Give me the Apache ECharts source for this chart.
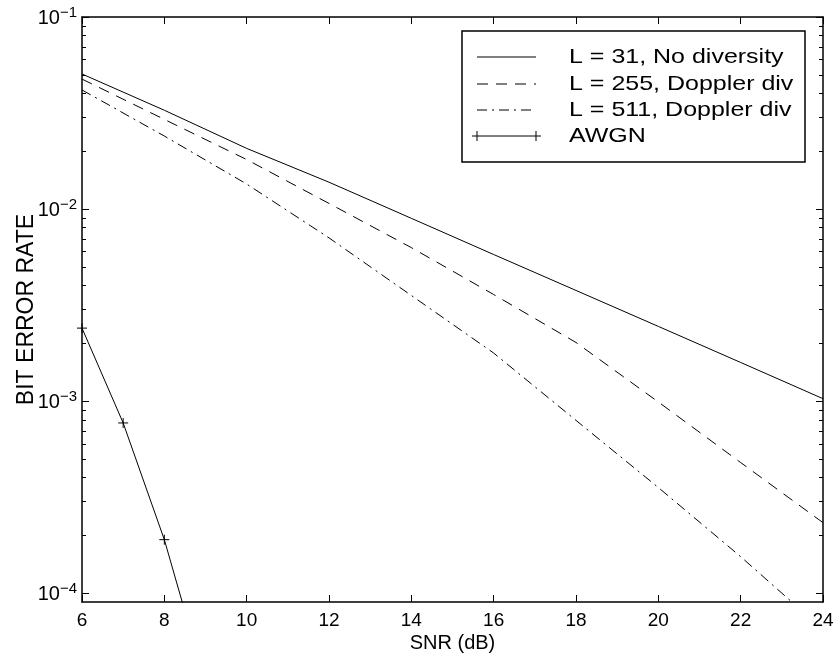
<!DOCTYPE html>
<html>
<head>
<meta charset="utf-8">
<script src="https://cdn.jsdelivr.net/npm/echarts@6/dist/echarts.min.js"></script>
<style>
  html, body { margin: 0; padding: 0; background: #fff; }
  #chart { width: 836px; height: 657px; }
</style>
</head>
<body>
<div id="chart"></div>
<script>
// SNR grid (dB) and bit error rates for each receiver configuration
const snr = [6, 8, 10, 12, 14, 16, 18, 20, 22, 24];
const berL31 = [0.0505, 0.0327, 0.0207, 0.0138, 0.00895, 0.0058, 0.00377, 0.00245, 0.00159, 0.00103];
const berL255 = [0.0475, 0.0293, 0.0181, 0.0107, 0.0063, 0.00359, 0.00202, 0.00099, 0.000479, 0.000233];
const berL511 = [0.0417, 0.024, 0.0135, 0.00708, 0.00355, 0.00178, 0.000794, 0.000355, 0.000155, 0.0000646];
const snrAwgn = [6, 7, 8, 9];
const berAwgn = [0.0024, 0.00077, 0.00019, 0.000034];

const seriesNames = ['L = 31, No diversity', 'L = 255, Doppler div', 'L = 511, Doppler div', 'AWGN'];

// Axis ticks
const xTicks = [6, 8, 10, 12, 14, 16, 18, 20, 22, 24];
const yMajor = [1e-4, 1e-3, 1e-2, 1e-1];
const yMin = 9e-5, yMax = 0.1;
const yMinor = [];
[-4, -3, -2].forEach(function (e) {
  for (let k = 2; k <= 9; k++) yMinor.push(+(k * Math.pow(10, e)).toPrecision(3));
});

const FONT = '"Liberation Sans", Arial, Helvetica, sans-serif';

function pairs(xs, ys) { return xs.map(function (x, i) { return [x, ys[i]]; }); }

function yLabel(v) {
  const e = Math.round(Math.log10(v));
  return '{a|10}{b|\u2212' + Math.abs(e) + '}';
}

const frame = { show: true, lineStyle: { color: '#000', width: 1.5 } };

function yAxisDef(pos, ticks, len, withLine, withLabel, extra) {
  return Object.assign({
    type: 'log', logBase: 10, min: yMin, max: yMax, position: pos, gridIndex: 0,
    axisLine: withLine ? frame : { show: false },
    axisTick: { show: true, inside: true, length: len, customValues: ticks, lineStyle: { color: '#000', width: 1 } },
    minorTick: { show: false },
    splitLine: { show: false },
    axisLabel: withLabel ? {
      show: true, customValues: yMajor, margin: 5, formatter: yLabel,
      rich: {
        a: { fontSize: 20, fontFamily: FONT, color: '#000', verticalAlign: 'bottom', lineHeight: 20 },
        b: { fontSize: 15, fontFamily: FONT, color: '#000', verticalAlign: 'bottom', padding: [0, 0, 8, 0] }
      }
    } : { show: false }
  }, extra || {});
}

function xAxisDef(pos, withLabel, extra) {
  return Object.assign({
    type: 'value', min: 6, max: 24, interval: 2, position: pos, gridIndex: 0,
    axisLine: frame,
    axisTick: { show: true, inside: true, length: 7, lineStyle: { color: '#000', width: 1 } },
    splitLine: { show: false },
    axisLabel: withLabel ? { show: true, fontSize: 19, fontFamily: FONT, color: '#000', margin: 9,
      customValues: xTicks } : { show: false }
  }, extra || {});
}

const legendRows = [57, 84, 110, 136];
const legendDash = [null, [11, 8], [10, 5, 2, 5], null];
const legendEls = [{
  type: 'rect', z: 100,
  shape: { x: 462, y: 31, width: 343, height: 131 },
  style: { fill: '#fff', stroke: '#000', lineWidth: 1.5 }
}];
seriesNames.forEach(function (name, i) {
  const y = legendRows[i];
  const plus = i === 3;
  legendEls.push({
    type: 'line', z: 101,
    shape: { x1: plus ? 472 : 477, y1: y, x2: plus ? 541 : 536, y2: y },
    style: { stroke: '#000', lineWidth: 1, lineDash: legendDash[i] }
  });
  if (plus) {
    [477, 536].forEach(function (px) {
      legendEls.push({
        type: 'line', z: 101,
        shape: { x1: px, y1: y - 5, x2: px, y2: y + 5 },
        style: { stroke: '#000', lineWidth: 1 }
      });
    });
  }
  legendEls.push({
    type: 'text', z: 101, x: 569, y: y, scaleX: 1.19,
    style: { text: name, fontSize: 21, fontFamily: FONT, fill: '#000', verticalAlign: 'middle', align: 'left' }
  });
});

const chart = echarts.init(document.getElementById('chart'), null, { renderer: 'canvas' });
chart.setOption({
  backgroundColor: '#fff',
  animation: false,
  grid: { left: 82, right: 13, top: 17, bottom: 55, containLabel: false, outerBoundsMode: 'none' },
  xAxis: [
    xAxisDef('bottom', true, {
      name: 'SNR (dB)', nameLocation: 'middle', nameGap: 31, nameMoveOverlap: false,
      nameTextStyle: { fontSize: 20, fontFamily: FONT, color: '#000' }
    }),
    xAxisDef('top', false)
  ],
  yAxis: [
    yAxisDef('left', yMajor, 7, true, true, {
      name: 'BIT ERROR RATE', nameLocation: 'middle', nameGap: 44, nameRotate: 90, nameMoveOverlap: false,
      nameTextStyle: { fontSize: 23, fontFamily: FONT, color: '#000' }
    }),
    yAxisDef('left', yMinor, 4, false, false),
    yAxisDef('right', yMajor, 7, true, false),
    yAxisDef('right', yMinor, 4, false, false)
  ],
  series: [
    { name: seriesNames[0], type: 'line', data: pairs(snr, berL31), symbol: 'none', clip: true,
      lineStyle: { color: '#000', width: 1, type: 'solid' } },
    { name: seriesNames[1], type: 'line', data: pairs(snr, berL255), symbol: 'none', clip: true,
      lineStyle: { color: '#000', width: 1, type: [11, 8] } },
    { name: seriesNames[2], type: 'line', data: pairs(snr, berL511), symbol: 'none', clip: true,
      lineStyle: { color: '#000', width: 1, type: [10, 5, 2, 5] } },
    { name: seriesNames[3], type: 'line', data: pairs(snrAwgn, berAwgn), clip: true,
      symbol: 'path://M5,0L5,10M0,5L10,5', symbolSize: 10,
      itemStyle: { color: 'rgba(0,0,0,0)', borderColor: '#000', borderWidth: 1 },
      lineStyle: { color: '#000', width: 1, type: 'solid' } }
  ],
  graphic: { elements: legendEls }
});
</script>
</body>
</html>
